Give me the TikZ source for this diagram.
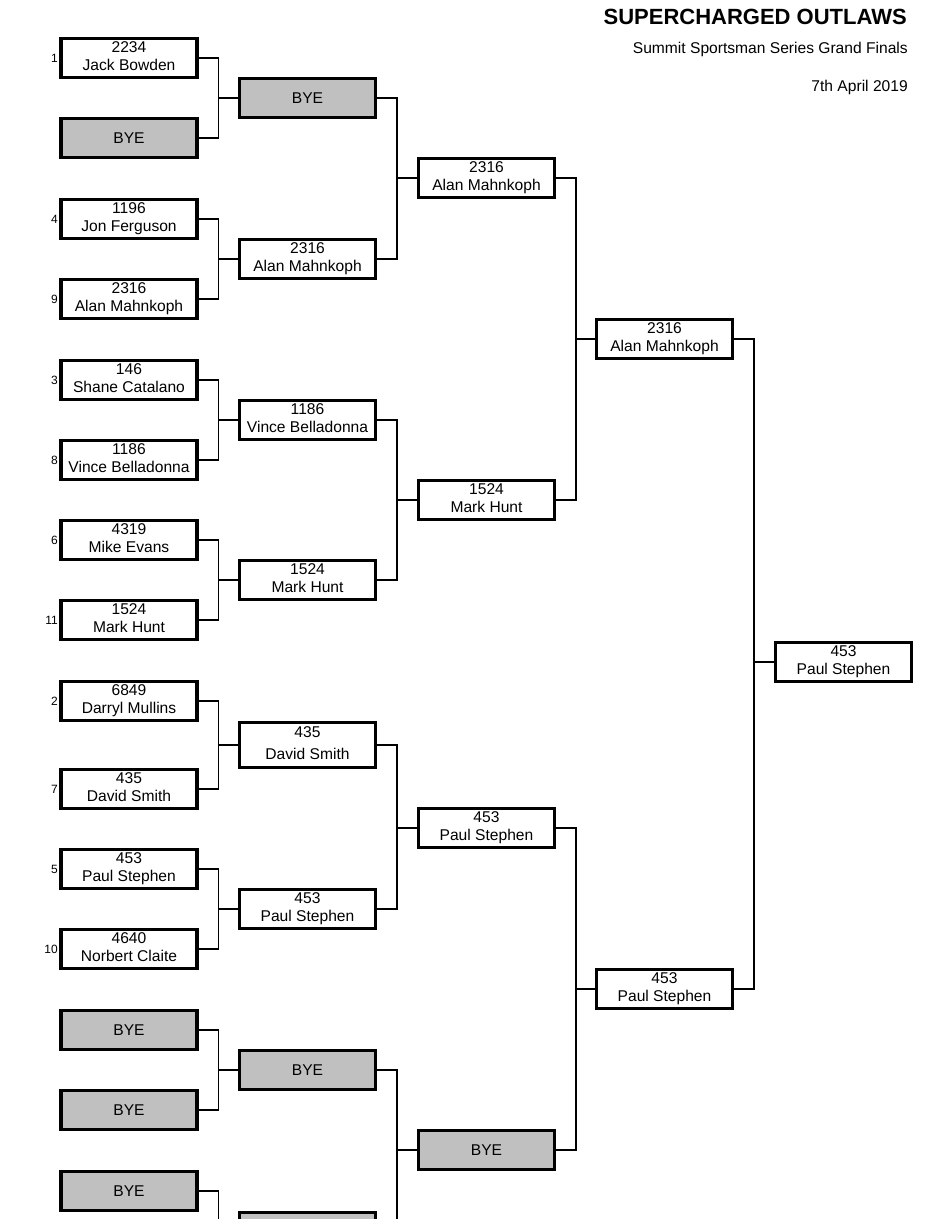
\documentclass[tikz,border=0pt]{standalone}
\usepackage{fontspec}
\setmainfont{Liberation Sans}
\usepackage{tikz}
\usepackage{xcolor}
\usetikzlibrary{positioning}

\definecolor{byegray}{RGB}{192,192,192}

\newcommand{\entry}[2]{#1\\#2\vphantom{p}}
\newcommand{\bracket}[3]{%
  \draw[link] (#1.east) -- ++(20,0) |- (#2.east);
  \draw[link] (#3.west) -- ++(-20,0);}

\begin{document}
\begin{tikzpicture}[
    x=0.75pt,
    y=-0.75pt,
    line join=miter
]

\tikzstyle{player}=[
    rectangle,
    draw,
    fill=white,
    line width=2.4pt,
    minimum width=102pt,
    minimum height=29.25pt,
    inner sep=0pt,
    align=center,
    font=\fontsize{11.7pt}{13.7pt}\selectfont
]
\tikzstyle{bye}=[player, fill=byegray]
\tikzstyle{tallbox}=[player, minimum height=33.75pt, font=\fontsize{11.7pt}{16.3pt}\selectfont]
\tikzstyle{link}=[line width=1.3pt]
\tikzstyle{seed}=[font=\fontsize{9pt}{10pt}\selectfont, inner sep=1pt]
\tikzstyle{heading}=[anchor=base east, inner sep=0pt, font=\fontsize{11.7pt}{13.7pt}\selectfont]

\useasboundingbox (0,0) rectangle (946,1219);
\clip (0,0) rectangle (946,1219);

\node[heading, font=\fontsize{16.5pt}{20pt}\selectfont\bfseries] (title) at (907,25) {SUPERCHARGED OUTLAWS};
\node[heading] (event) at (908,54) {Summit Sportsman Series Grand Finals};
\node[heading] (date) at (908,92) {7th April 2019};


\node[player, label={[seed]left:1}] (a1) at (129,58) {\entry{2234}{Jack Bowden}};
\node[bye] (a2) at (129,138) {BYE};
\node[player, label={[seed]left:4}] (a3) at (129,219) {\entry{1196}{Jon Ferguson}};
\node[player, label={[seed]left:9}] (a4) at (129,299) {\entry{2316}{Alan Mahnkoph}};
\node[player, label={[seed]left:3}] (a5) at (129,380) {\entry{146}{Shane Catalano}};
\node[player, label={[seed]left:8}] (a6) at (129,460) {\entry{1186}{Vince Belladonna}};
\node[player, label={[seed]left:6}] (a7) at (129,540) {\entry{4319}{Mike Evans}};
\node[player, label={[seed]left:11}] (a8) at (129,620) {\entry{1524}{Mark Hunt}};
\node[player, label={[seed]left:2}] (a9) at (129,701) {\entry{6849}{Darryl Mullins}};
\node[player, label={[seed]left:7}] (a10) at (129,789) {\entry{435}{David Smith}};
\node[player, label={[seed]left:5}] (a11) at (129,869) {\entry{453}{Paul Stephen}};
\node[player, label={[seed]left:10}] (a12) at (129,949) {\entry{4640}{Norbert Claite}};
\node[bye] (a13) at (129,1030) {BYE};
\node[bye] (a14) at (129,1110) {BYE};
\node[bye] (a15) at (129,1191) {BYE};
\node[bye] (a16) at (129,1271) {};

\node[bye] (b1) at (307.5,98) {BYE};
\node[player] (b2) at (307.5,259) {\entry{2316}{Alan Mahnkoph}};
\node[player] (b3) at (307.5,420) {\entry{1186}{Vince Belladonna}};
\node[player] (b4) at (307.5,580) {\entry{1524}{Mark Hunt}};
\node[tallbox] (b5) at (307.5,745) {\entry{435}{David Smith}};
\node[player] (b6) at (307.5,909) {\entry{453}{Paul Stephen}};
\node[bye] (b7) at (307.5,1070) {BYE};
\node[bye] (b8) at (307.5,1232) {};

\node[player] (c1) at (486.5,178) {\entry{2316}{Alan Mahnkoph}};
\node[player] (c2) at (486.5,500) {\entry{1524}{Mark Hunt}};
\node[player] (c3) at (486.5,828) {\entry{453}{Paul Stephen}};
\node[bye] (c4) at (486.5,1150) {BYE};

\node[player] (d1) at (664.5,339) {\entry{2316}{Alan Mahnkoph}};
\node[player] (d2) at (664.5,989) {\entry{453}{Paul Stephen}};

\node[player] (f) at (843.5,662) {\entry{453}{Paul Stephen}};


\bracket{a1}{a2}{b1}
\bracket{a3}{a4}{b2}
\bracket{a5}{a6}{b3}
\bracket{a7}{a8}{b4}
\bracket{a9}{a10}{b5}
\bracket{a11}{a12}{b6}
\bracket{a13}{a14}{b7}
\bracket{a15}{a16}{b8}

\bracket{b1}{b2}{c1}
\bracket{b3}{b4}{c2}
\bracket{b5}{b6}{c3}
\bracket{b7}{b8}{c4}

\bracket{c1}{c2}{d1}
\bracket{c3}{c4}{d2}

\bracket{d1}{d2}{f}

\end{tikzpicture}
\end{document}
